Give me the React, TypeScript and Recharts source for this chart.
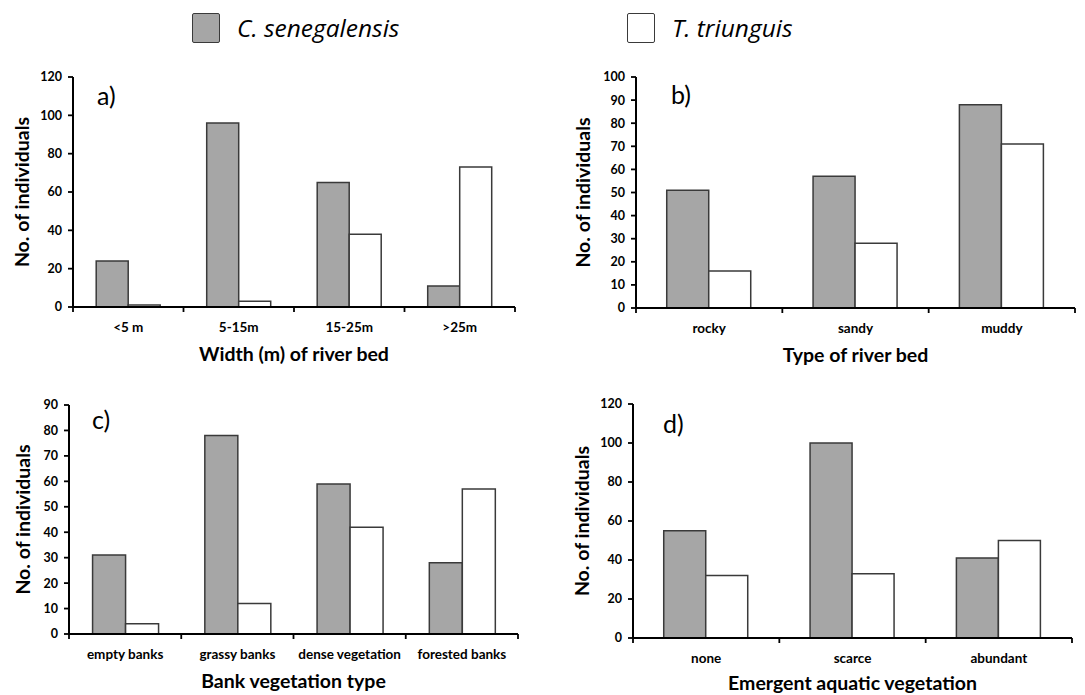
import React from 'react';
import { BarChart, Bar, XAxis, YAxis } from 'recharts';

const FONT = 'Lato, "Open Sans", sans-serif';
const LEGEND_FONT = '"Open Sans", Lato, sans-serif';

// ---- data ----
const widthCategories = ['<5 m', '5-15m', '15-25m', '>25m'];
const widthSenegalensis = [24, 96, 65, 11];
const widthTriunguis = [1, 3, 38, 73];
const widthYTicks = [0, 20, 40, 60, 80, 100, 120];

const bedCategories = ['rocky', 'sandy', 'muddy'];
const bedSenegalensis = [51, 57, 88];
const bedTriunguis = [16, 28, 71];
const bedYTicks = [0, 10, 20, 30, 40, 50, 60, 70, 80, 90, 100];

const bankCategories = ['empty banks', 'grassy banks', 'dense vegetation', 'forested banks'];
const bankSenegalensis = [31, 78, 59, 28];
const bankTriunguis = [4, 12, 42, 57];
const bankYTicks = [0, 10, 20, 30, 40, 50, 60, 70, 80, 90];

const aquaticCategories = ['none', 'scarce', 'abundant'];
const aquaticSenegalensis = [55, 100, 41];
const aquaticTriunguis = [32, 33, 50];
const aquaticYTicks = [0, 20, 40, 60, 80, 100, 120];

const seriesNames = ['C. senegalensis', 'T. triunguis'];

const GRAY = '#a6a6a6';
const STROKE = '#3a3a3a';

type PanelProps = {
  left: number;
  top: number;
  width: number;
  height: number;
  marginTop: number;
  marginRight: number;
  yAxisWidth: number;
  xAxisHeight: number;
  categories: string[];
  s1: number[];
  s2: number[];
  yTicks: number[];
  xTitle: string;
  yLabelOffset: number;
  xTitleOffset: number;
};

const makeBoundaryTick = (categories: string[]) => (props: any) => {
  const { x, y, payload } = props;
  const v = payload.value as number;
  if (Number.isInteger(v)) {
    return <line x1={x} x2={x} y1={y} y2={y + 5} stroke="#000" strokeWidth={1.8} />;
  }
  return (
    <text
      x={x}
      y={y + 25}
      textAnchor="middle"
      fill="#000"
      fontSize={13.5}
      fontWeight={700}
      fontFamily={FONT}
    >
      {categories[Math.floor(v)]}
    </text>
  );
};

const Panel = (p: PanelProps) => {
  const n = p.categories.length;
  const data = p.categories.map((c, i) => ({ name: c, pos: i + 0.5, a: p.s1[i], b: p.s2[i] }));
  const numTicks: number[] = [];
  for (let i = 0; i <= n; i++) {
    numTicks.push(i);
    if (i < n) numTicks.push(i + 0.5);
  }
  const yMax = p.yTicks[p.yTicks.length - 1];
  return (
    <div style={{ position: 'absolute', left: p.left, top: p.top }}>
      <BarChart
        width={p.width}
        height={p.height}
        data={data}
        margin={{ top: p.marginTop, right: p.marginRight, left: 0, bottom: 0 }}
        barCategoryGap="21%"
        barGap={0}
      >
        <XAxis xAxisId="cat" dataKey="name" hide height={0} />
        <XAxis
          xAxisId="num"
          dataKey="pos"
          type="number"
          domain={[0, n]}
          allowDataOverflow
          ticks={numTicks}
          interval={0}
          height={p.xAxisHeight}
          tickSize={0}
          tickMargin={0}
          tickLine={false}
          axisLine={{ stroke: '#000', strokeWidth: 2 }}
          tick={makeBoundaryTick(p.categories)}
          label={{
            value: p.xTitle,
            position: 'insideBottom',
            offset: p.xTitleOffset,
            style: { fontSize: 19.5, fontWeight: 700, fill: '#000', fontFamily: FONT },
          }}
        />
        <YAxis
          domain={[0, yMax]}
          ticks={p.yTicks}
          interval={0}
          width={p.yAxisWidth}
          tickSize={5}
          tickMargin={6}
          axisLine={{ stroke: '#000', strokeWidth: 2 }}
          tickLine={{ stroke: '#000', strokeWidth: 1.8 }}
          tick={{ fill: '#000', fontSize: 12.5, fontWeight: 700, fontFamily: FONT }}
          label={{
            value: 'No. of individuals',
            angle: -90,
            position: 'insideLeft',
            offset: p.yLabelOffset,
            style: { textAnchor: 'middle', fontSize: 19.5, fontWeight: 700, fill: '#000', fontFamily: FONT },
          }}
        />
        <Bar
          xAxisId="cat"
          dataKey="a"
          name={seriesNames[0]}
          fill={GRAY}
          stroke={STROKE}
          strokeWidth={1.5}
          isAnimationActive={false}
        />
        <Bar
          xAxisId="cat"
          dataKey="b"
          name={seriesNames[1]}
          fill="#ffffff"
          stroke={STROKE}
          strokeWidth={1.5}
          isAnimationActive={false}
        />
      </BarChart>
    </div>
  );
};

const letterStyle = (left: number, top: number): React.CSSProperties => ({
  position: 'absolute',
  left,
  top,
  fontFamily: FONT,
  fontSize: 25,
  lineHeight: '25px',
  color: '#000',
});

const LegendItem = ({ left, fill, text }: { left: number; fill: string; text: string }) => (
  <div style={{ position: 'absolute', left, top: 13, height: 30, display: 'flex', alignItems: 'center' }}>
    <div
      style={{
        width: 26,
        height: 28,
        background: fill,
        border: `1.5px solid ${STROKE}`,
        borderRadius: 2,
      }}
    />
    <span
      style={{
        marginLeft: 17,
        fontFamily: LEGEND_FONT,
        fontStyle: 'italic',
        fontSize: 24.5,
        lineHeight: '30px',
        color: '#000',
      }}
    >
      {text}
    </span>
  </div>
);

export default function App() {
  return (
    <div style={{ position: 'absolute', left: 0, top: 0, width: 1085, height: 695, background: '#fff', overflow: 'hidden' }}>
      <LegendItem left={192} fill={GRAY} text={seriesNames[0]} />
      <LegendItem left={627} fill="#ffffff" text={seriesNames[1]} />

      <Panel
        left={0}
        top={60}
        width={530}
        height={307}
        marginTop={17}
        marginRight={15}
        yAxisWidth={73}
        xAxisHeight={60}
        categories={widthCategories}
        s1={widthSenegalensis}
        s2={widthTriunguis}
        yTicks={widthYTicks}
        xTitle="Width (m) of river bed"
        yLabelOffset={22}
        xTitleOffset={6}
      />
      <Panel
        left={540}
        top={60}
        width={545}
        height={308}
        marginTop={17}
        marginRight={10}
        yAxisWidth={96}
        xAxisHeight={60}
        categories={bedCategories}
        s1={bedSenegalensis}
        s2={bedTriunguis}
        yTicks={bedYTicks}
        xTitle="Type of river bed"
        yLabelOffset={43}
        xTitleOffset={6}
      />
      <Panel
        left={0}
        top={390}
        width={530}
        height={304}
        marginTop={15}
        marginRight={12}
        yAxisWidth={69}
        xAxisHeight={60}
        categories={bankCategories}
        s1={bankSenegalensis}
        s2={bankTriunguis}
        yTicks={bankYTicks}
        xTitle="Bank vegetation type"
        yLabelOffset={23}
        xTitleOffset={6}
      />
      <Panel
        left={540}
        top={390}
        width={545}
        height={305}
        marginTop={14}
        marginRight={13}
        yAxisWidth={93}
        xAxisHeight={57}
        categories={aquaticCategories}
        s1={aquaticSenegalensis}
        s2={aquaticTriunguis}
        yTicks={aquaticYTicks}
        xTitle="Emergent aquatic vegetation"
        yLabelOffset={42}
        xTitleOffset={5}
      />

      <div style={letterStyle(97, 83)}>a)</div>
      <div style={letterStyle(671, 82)}>b)</div>
      <div style={letterStyle(92, 407)}>c)</div>
      <div style={letterStyle(663, 411)}>d)</div>
    </div>
  );
}
